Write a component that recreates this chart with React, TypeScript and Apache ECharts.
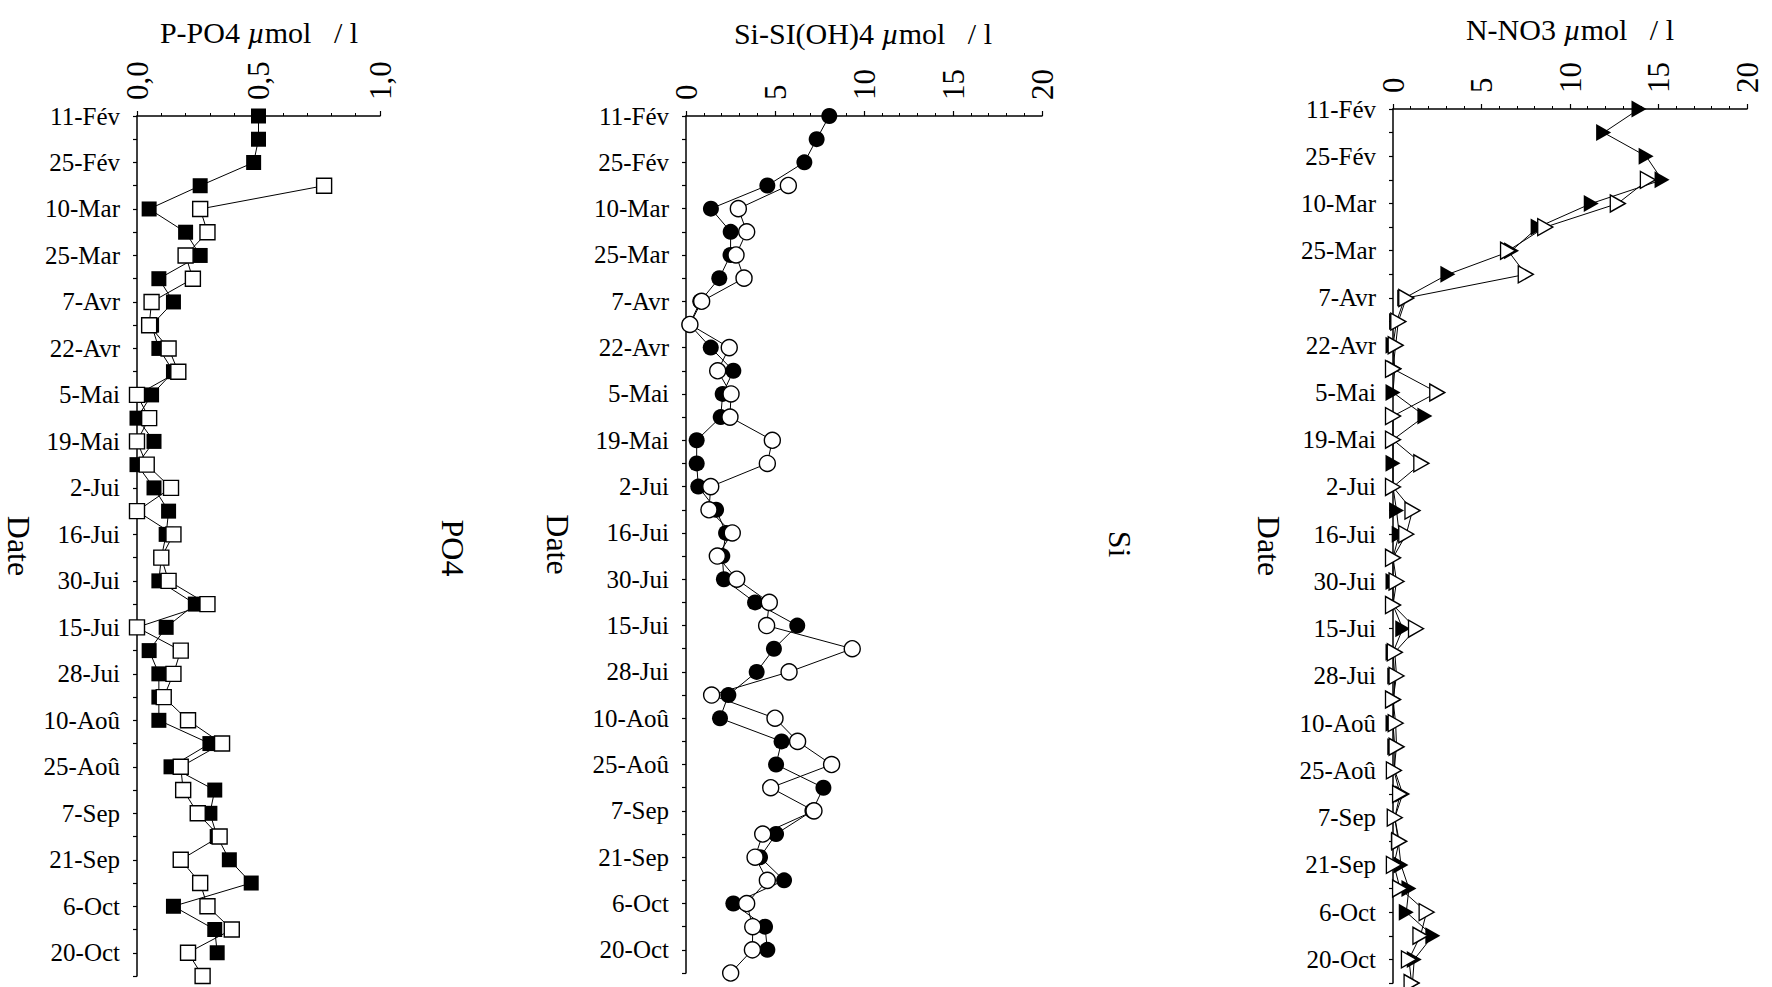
import React, { useEffect, useRef } from 'react';
import * as echarts from 'echarts';

// Tick labels of the date (category) axis; one un-labelled sampling date lies between each pair
const dateLabels = [
  '11-Fév', '25-Fév', '10-Mar', '25-Mar', '7-Avr', '22-Avr', '5-Mai', '19-Mai', '2-Jui',
  '16-Jui', '30-Jui', '15-Jui', '28-Jui', '10-Aoû', '25-Aoû', '7-Sep', '21-Sep', '6-Oct', '20-Oct',
];
const sampleCount = 38;

// P-PO4 (µmol/l)
const po4Filled = [
  0.50, 0.50, 0.48, 0.26, 0.05, 0.20, 0.26, 0.09, 0.15, 0.06,
  0.09, 0.15, 0.06, 0.00, 0.07, 0.00, 0.07, 0.13, 0.12, 0.10,
  0.09, 0.24, 0.12, 0.05, 0.09, 0.09, 0.09, 0.30, 0.14, 0.32,
  0.30, 0.33, 0.38, 0.47, 0.15, 0.32, 0.33, null,
];
const po4Open = [
  null, null, null, 0.77, 0.26, 0.29, 0.20, 0.23, 0.06, 0.05,
  0.13, 0.17, 0.00, 0.05, 0.00, 0.04, 0.14, 0.00, 0.15, 0.10,
  0.13, 0.29, 0.00, 0.18, 0.15, 0.11, 0.21, 0.35, 0.18, 0.19,
  0.25, 0.34, 0.18, 0.26, 0.29, 0.39, 0.21, 0.27,
];

// Si-Si(OH)4 (µmol/l)
const siFilled = [
  8.05, 7.34, 6.65, 4.57, 1.40, 2.51, 2.50, 1.87, 0.80, 0.20,
  1.39, 2.66, 2.06, 1.95, 0.60, 0.60, 0.69, 1.69, 2.25, 2.04,
  2.13, 3.88, 6.25, 4.94, 3.97, 2.38, 1.91, 5.37, 5.06, 7.72,
  7.10, 5.06, 4.16, 5.51, 2.66, 4.44, 4.57, null,
];
const siOpen = [
  null, null, null, 5.75, 2.94, 3.41, 2.81, 3.26, 0.88, 0.22,
  2.43, 1.78, 2.53, 2.47, 4.85, 4.57, 1.39, 1.29, 2.60, 1.76,
  2.85, 4.68, 4.53, 9.34, 5.79, 1.44, 5.00, 6.27, 8.18, 4.76,
  7.19, 4.31, 3.88, 4.57, 3.41, 3.75, 3.73, 2.51,
];

// N-NO3 (µmol/l)
const nFilled = [
  13.9, 11.9, 14.3, 15.2, 11.2, 8.2, 6.7, 3.1, 0.66, 0.2,
  0.0, 0.1, 0.0, 1.8, 0.0, 0.0, 0.0, 0.2, 0.35, 0.0,
  0.0, 0.0, 0.55, 0.0, 0.1, 0.05, 0.0, 0.1, 0.1, 0.55,
  0.1, 0.3, 0.45, 0.9, 0.75, 2.25, 1.2, 1.1,
];
const nOpen = [
  null, null, null, 14.4, 12.7, 8.6, 6.5, 7.5, 0.75, 0.3,
  0.15, 0.0, 2.5, 0.0, 0.0, 1.6, 0.0, 1.1, 0.75, 0.0,
  0.2, 0.0, 1.3, 0.1, 0.2, 0.0, 0.15, 0.2, 0.05, 0.4,
  0.1, 0.35, 0.05, 0.4, 1.9, 1.55, 0.9, 1.05,
];

const panelTitles = ['P-PO4 {i|µ}mol   / l', 'Si-SI(OH)4 {i|µ}mol   / l', 'N-NO3 {i|µ}mol   / l'];
const sideLabels = ['PO4', 'Si'];

const FONT = '"Liberation Serif", "Times New Roman", Times, serif';
const BLACK = '#000';

export default function App() {
  const ref = useRef<HTMLDivElement>(null);

  useEffect(() => {
    if (!ref.current) return;
    const chart = echarts.init(ref.current, null, { renderer: 'svg' });

    const categories: string[] = [];
    for (let i = 0; i < sampleCount; i++) {
      categories.push(i % 2 === 0 ? dateLabels[i / 2] : '');
    }

    const grids = [
      { left: 137, top: 116, width: 243, height: 860 },
      { left: 686, top: 116, width: 356, height: 857 },
      { left: 1393, top: 109, width: 354, height: 874 },
    ];
    const valueAxes = [
      { max: 1, interval: 0.5, fmt: (v: number) => v.toFixed(1).replace('.', ',') },
      { max: 20, interval: 5, fmt: (v: number) => String(v) },
      { max: 20, interval: 5, fmt: (v: number) => String(v) },
    ];
    const nameGaps = [102, 112, 108];
    const titleX = [259, 863, 1570];
    const titleY = [32, 33, 29];

    const xAxis = valueAxes.map((a, i) => ({
      gridIndex: i,
      type: 'value',
      position: 'top',
      min: 0,
      max: a.max,
      interval: a.interval,
      axisLine: { show: true, onZero: false, lineStyle: { color: BLACK, width: 1.5 } },
      axisTick: { show: true, length: 5, lineStyle: { color: BLACK, width: 1.2 } },
      minorTick: { show: true, splitNumber: 5, length: 3, lineStyle: { color: BLACK, width: 1 } },
      splitLine: { show: false },
      axisLabel: {
        rotate: -90,
        margin: 16,
        fontSize: 31,
        color: BLACK,
        fontFamily: FONT,
        formatter: a.fmt,
      },
    }));

    const yAxis = grids.map((_, i) => ({
      gridIndex: i,
      type: 'category',
      inverse: true,
      boundaryGap: false,
      data: categories,
      axisLine: { show: true, onZero: false, lineStyle: { color: BLACK, width: 1.5 } },
      axisTick: { show: true, interval: 0, length: 4, lineStyle: { color: BLACK, width: 1.2 } },
      axisLabel: { interval: 1, margin: 17, fontSize: 25, color: BLACK, fontFamily: FONT },
      splitLine: { show: false },
      name: 'Date',
      nameLocation: 'middle',
      nameRotate: -90,
      nameGap: nameGaps[i],
      nameTextStyle: { fontSize: 32, color: BLACK, fontFamily: FONT },
    }));

    const filledStyle = { color: BLACK };
    const openStyle = { color: '#fff', borderColor: BLACK, borderWidth: 1.4 };
    const line = { color: BLACK, width: 1 };

    const mk = (name: string, idx: number, data: (number | null)[], symbol: string, size: any, open: boolean, rotate = 0) => ({
      name,
      type: 'line',
      xAxisIndex: idx,
      yAxisIndex: idx,
      data,
      symbol,
      symbolSize: size,
      symbolRotate: rotate,
      showAllSymbol: true,
      connectNulls: false,
      clip: false,
      lineStyle: line,
      itemStyle: open ? openStyle : filledStyle,
      emphasis: { disabled: true },
      z: open ? 3 : 2,
    });

    const series = [
      mk('PO4 (plein)', 0, po4Filled, 'rect', 15, false),
      mk('PO4 (vide)', 0, po4Open, 'rect', 15, true),
      mk('Si (plein)', 1, siFilled, 'circle', 16, false),
      mk('Si (vide)', 1, siOpen, 'circle', 16, true),
      mk('NO3 (plein)', 2, nFilled, 'triangle', [17, 15], false, -90),
      mk('NO3 (vide)', 2, nOpen, 'triangle', [17, 15], true, -90),
    ];

    const graphic: any[] = [];
    panelTitles.forEach((t, i) => {
      graphic.push({
        type: 'text',
        x: titleX[i],
        y: titleY[i],
        style: {
          text: t,
          fontSize: 30,
          fontFamily: FONT,
          fill: BLACK,
          align: 'center',
          verticalAlign: 'middle',
          textAlign: 'center',
          textVerticalAlign: 'middle',
          rich: { i: { fontStyle: 'italic', fontSize: 30, fontFamily: FONT, fill: BLACK } },
        },
      });
    });
    const sidePos = [[453, 548], [1120, 544]];
    sideLabels.forEach((t, i) => {
      graphic.push({
        type: 'text',
        x: sidePos[i][0],
        y: sidePos[i][1],
        rotation: -Math.PI / 2,
        style: {
          text: t,
          fontSize: 32,
          fontFamily: FONT,
          fill: BLACK,
          align: 'center',
          verticalAlign: 'middle',
          textAlign: 'center',
          textVerticalAlign: 'middle',
        },
      });
    });

    chart.setOption({
      animation: false,
      backgroundColor: '#fff',
      textStyle: { fontFamily: FONT },
      grid: grids.map((g) => ({ ...g, containLabel: false })),
      xAxis,
      yAxis,
      series,
      graphic,
    });

    return () => chart.dispose();
  }, []);

  return (
    <div
      ref={ref}
      style={{ position: 'fixed', left: 0, top: 0, width: 1772, height: 987, background: '#fff' }}
    />
  );
}
